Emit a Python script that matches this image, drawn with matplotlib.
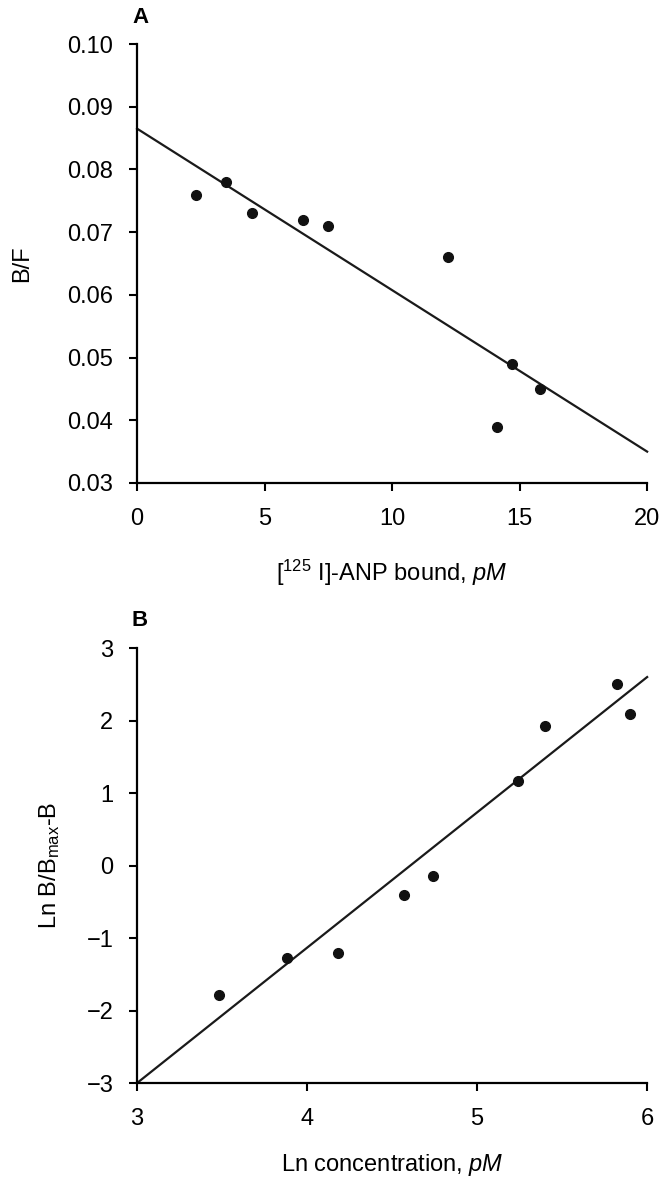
import matplotlib.pyplot as plt
import numpy as np

plt.rcParams['font.family'] = ['Liberation Sans', 'DejaVu Sans']
plt.rcParams['mathtext.fontset'] = 'custom'
plt.rcParams['mathtext.rm'] = 'Liberation Sans'
plt.rcParams['mathtext.it'] = 'Liberation Sans:italic'

# panel A: Scatchard plot
bound_pm = [2.3, 3.5, 4.5, 6.5, 7.5, 12.2, 14.1, 14.7, 15.8]
b_over_f = [0.076, 0.078, 0.073, 0.072, 0.071, 0.066, 0.039, 0.049, 0.045]
fit_a_x = [0, 20]
fit_a_y = [0.0865, 0.035]

# panel B: Hill plot
ln_conc = [3.48, 3.88, 4.18, 4.57, 4.74, 5.24, 5.40, 5.82, 5.90]
ln_ratio = [-1.78, -1.27, -1.20, -0.40, -0.14, 1.17, 1.93, 2.50, 2.09]
fit_b_x = [3, 6]
fit_b_y = [-3, 2.6]

fig = plt.figure(figsize=(6.72, 11.8), dpi=100)
axA = fig.add_axes([0.204, 0.5907, 0.759, 0.372])
axB = fig.add_axes([0.204, 0.0822, 0.759, 0.3686])


def style(ax):
    for s in ['top', 'right']:
        ax.spines[s].set_visible(False)
    for s in ['left', 'bottom']:
        ax.spines[s].set_linewidth(1.6)
    ax.tick_params(direction='out', length=6, width=1.5, labelsize=17)
    ax.tick_params(axis='x', pad=12)
    ax.tick_params(axis='y', pad=11)


axA.plot(fit_a_x, fit_a_y, color='#1a1a1a', lw=1.6, clip_on=False)
axA.plot(bound_pm, b_over_f, 'o', color='#111111', ms=7, clip_on=False)
axA.set_xlim(0, 20)
axA.set_ylim(0.03, 0.10)
axA.set_xticks([0, 5, 10, 15, 20])
axA.set_yticks(np.arange(0.03, 0.1001, 0.01))
axA.set_yticklabels(['0.03', '0.04', '0.05', '0.06', '0.07', '0.08', '0.09', '0.10'])
axA.set_xlabel('[$^{125}$ I]-ANP bound, $\\it{pM}$', fontsize=17)
axA.set_ylabel('B/F', fontsize=17)
style(axA)
axA.xaxis.set_label_coords(0.5, -0.171)
axA.yaxis.set_label_coords(-0.204, 0.5)
axA.text(-0.01, 1.0615, 'A', transform=axA.transAxes, fontsize=16, fontweight='bold',
         ha='left', va='center')

axB.plot(fit_b_x, fit_b_y, color='#1a1a1a', lw=1.6, clip_on=False)
axB.plot(ln_conc, ln_ratio, 'o', color='#111111', ms=7, clip_on=False)
axB.set_xlim(3, 6)
axB.set_ylim(-3, 3)
axB.set_xticks([3, 4, 5, 6])
axB.set_yticks([-3, -2, -1, 0, 1, 2, 3])
axB.set_xlabel('Ln concentration, $\\it{pM}$', fontsize=17)
axB.set_ylabel('Ln B/B$_{\\mathrm{max}}$-B', fontsize=17)
style(axB)
axB.xaxis.set_label_coords(0.5, -0.158)
axB.yaxis.set_label_coords(-0.147, 0.5)
axB.text(-0.01, 1.064, 'B', transform=axB.transAxes, fontsize=16, fontweight='bold',
         ha='left', va='center')

fig.savefig('out.png', dpi=100)
